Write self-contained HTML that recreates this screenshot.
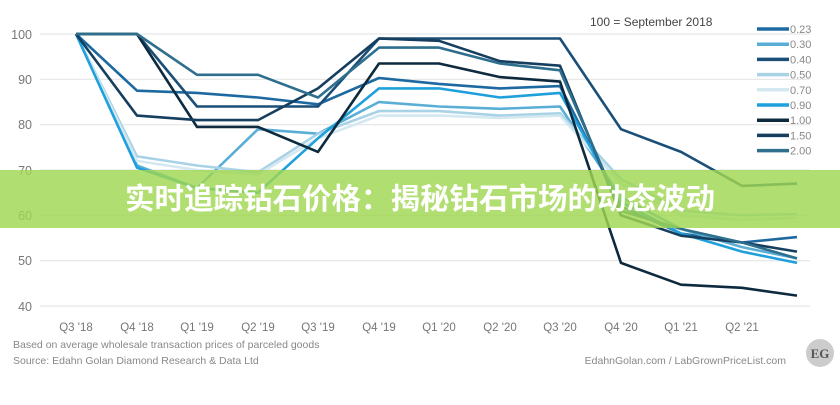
<!DOCTYPE html>
<html><head><meta charset="utf-8"><style>
body{margin:0;background:#fff;width:840px;height:400px;overflow:hidden;font-family:"Liberation Sans",sans-serif}
</style></head><body>
<svg width="840" height="400" xmlns="http://www.w3.org/2000/svg" font-family="Liberation Sans, sans-serif">
<rect width="840" height="400" fill="#fff"/>
<g stroke="#e2e2e2" stroke-width="1">
<line x1="40" y1="34" x2="810" y2="34"/><line x1="40" y1="79.3" x2="810" y2="79.3"/><line x1="40" y1="124.7" x2="810" y2="124.7"/><line x1="40" y1="170" x2="810" y2="170"/><line x1="40" y1="215.3" x2="810" y2="215.3"/><line x1="40" y1="260.7" x2="810" y2="260.7"/><line x1="40" y1="306" x2="810" y2="306"/>
</g>
<g fill="#777" font-size="12.5" text-anchor="end">
<text x="32" y="39">100</text><text x="32" y="84">90</text><text x="32" y="129">80</text><text x="32" y="175">70</text><text x="32" y="220">60</text><text x="32" y="265">50</text><text x="32" y="311">40</text>
</g>
<g fill="#777" font-size="11.5" text-anchor="middle">
<text x="76" y="331">Q3 '18</text><text x="137" y="331">Q4 '18</text><text x="197" y="331">Q1 '19</text><text x="258" y="331">Q2 '19</text><text x="318" y="331">Q3 '19</text><text x="379" y="331">Q4 '19</text><text x="439" y="331">Q1 '20</text><text x="500" y="331">Q2 '20</text><text x="560" y="331">Q3 '20</text><text x="621" y="331">Q4 '20</text><text x="681" y="331">Q1 '21</text><text x="742" y="331">Q2 '21</text>
</g>
<text x="590" y="26" font-size="12" fill="#444">100 = September 2018</text>
<g id="lines" fill="none" stroke-width="2.6" stroke-linejoin="round"></g>
<g font-size="11" fill="#888" id="leg"></g>
<text x="13" y="348" font-size="10.5" fill="#888">Based on average wholesale transaction prices of parceled goods</text>
<text x="13" y="364" font-size="10.5" fill="#888">Source: Edahn Golan Diamond Research &amp; Data Ltd</text>
<text x="786" y="364" font-size="10.5" fill="#888" text-anchor="end">EdahnGolan.com / LabGrownPriceList.com</text>
<circle cx="820" cy="353" r="14" fill="#ccc"/>
<text x="820" y="358" font-size="13" font-family="Liberation Serif,serif" fill="#555" text-anchor="middle" font-weight="bold">EG</text>
<rect x="0" y="170" width="840" height="58" fill="rgb(160,215,80)" fill-opacity="0.82"/>
<text x="420" y="209" font-size="29.5" font-weight="bold" fill="#fff" text-anchor="middle" font-family="Liberation Sans, Noto Sans CJK SC, sans-serif">实时追踪钻石价格：揭秘钻石市场的动态波动</text>
</svg>
<script>
const xs=[76,137,197,258,318,379,439,500,560,621,681,742,797];
const S=[
["0.23","#1e6aa0",[100,87.5,87,86,84.5,90.3,89,88,88.5,62,56,54,55.2]],
["0.30","#5aaed6",[100,71,66,79,78,85,84,83.5,84,64,57,53,50.5]],
["0.40","#1b4f78",[100,100,84,84,84,99,99,99,99,79,74,66.5,67]],
["0.50","#a8d2e6",[100,73,71,69.5,78,83,83,82,82.5,68,61,60,60.3]],
["0.70","#d4e8f2",[100,72,70,69,77,82,82,81.5,82,67,60,59,59.5]],
["0.90","#1fa0dc",[100,70.5,66,65,77,88,88,86,87,63,56,52,49.5]],
["1.00","#0d2a3e",[100,100,79.5,79.5,74,93.5,93.5,90.5,89.5,49.5,44.7,44,42.3]],
["1.50","#163e5e",[100,82,81,81,88,99,98.5,94,93,60,55.5,54,52]],
["2.00","#2e6f8e",[100,100,91,91,86,97,97,93.5,92,61,57,54,50.5]]];
const y=v=>34+(100-v)*4.533;
const g=document.getElementById('lines'),L=document.getElementById('leg');
const ns="http://www.w3.org/2000/svg";
S.forEach((s,i)=>{const p=document.createElementNS(ns,'polyline');p.setAttribute('points',s[2].map((v,j)=>xs[j]+','+y(v).toFixed(1)).join(' '));p.setAttribute('stroke',s[1]);g.appendChild(p);
const ly=29+i*15.2;const l=document.createElementNS(ns,'line');l.setAttribute('x1',757);l.setAttribute('x2',789);l.setAttribute('y1',ly);l.setAttribute('y2',ly);l.setAttribute('stroke',s[1]);l.setAttribute('stroke-width',3.5);L.appendChild(l);
const t=document.createElementNS(ns,'text');t.setAttribute('x',790);t.setAttribute('y',ly+4);t.textContent=s[0];L.appendChild(t);});
</script>
</body></html>
